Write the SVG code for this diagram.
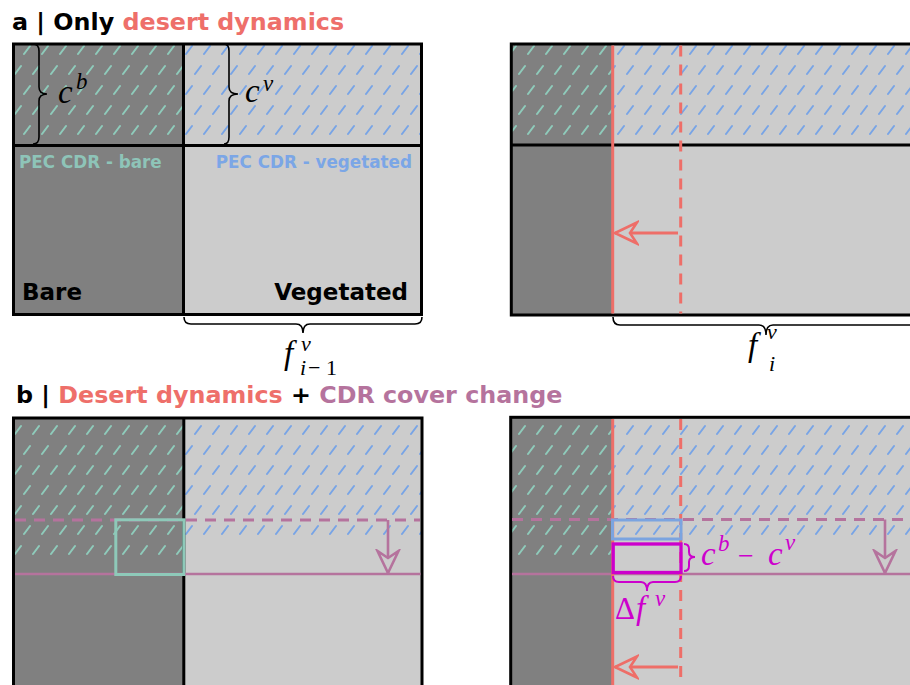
<svg xmlns="http://www.w3.org/2000/svg" width="910" height="685" viewBox="0 0 910 685">
<style>
.bg{fill:#ffffff}
.bare{fill:#808080}
.veg{fill:#cccccc}
.ht{fill:url(#hatchTeal)}
.hb{fill:url(#hatchBlue)}
.border{fill:none;stroke:#000;stroke-width:3}
.div{stroke:#000;stroke-width:3}
.red{stroke:#ee6e68;stroke-width:3;fill:none}
.reddash{stroke:#ee6e68;stroke-width:3;stroke-dasharray:11 8;fill:none}
.pur{stroke:#b5739d;stroke-width:2.6;fill:none}
.purdash{stroke:#b5739d;stroke-width:3;stroke-dasharray:11 8;fill:none}
.brace{fill:none;stroke:#000;stroke-width:1.6}
.mbrace{fill:none;stroke:#cc00cc;stroke-width:2}
.title{font-family:"DejaVu Sans",Verdana,sans-serif;font-weight:bold;font-size:23.8px}
.lbl{font-family:"DejaVu Sans",Verdana,sans-serif;font-weight:bold;font-size:23px;fill:#000}
.pec{font-family:"DejaVu Sans",Verdana,sans-serif;font-weight:bold;font-size:16.8px}
.math{font-family:"Liberation Serif","Times New Roman",serif;font-style:italic}
.up{font-family:"Liberation Serif","Times New Roman",serif;font-style:normal}
</style>
<defs>
<pattern id="hatchTeal" patternUnits="userSpaceOnUse" x="4" y="0" width="18" height="40">
<path d="M2,14 L8,6 M11,34 L17,26" stroke="#8ecbbb" stroke-width="2" stroke-linecap="round"/>
</pattern>
<pattern id="hatchBlue" patternUnits="userSpaceOnUse" x="4" y="0" width="18" height="40">
<path d="M2,14 L8,6 M11,34 L17,26" stroke="#78a4e6" stroke-width="2" stroke-linecap="round"/>
</pattern>
<marker id="arrRed" viewBox="0 0 26 26" refX="24" refY="13" markerWidth="26" markerHeight="26" orient="auto" markerUnits="userSpaceOnUse">
<path d="M24,13 L2,2.5 L9,13 L2,23.5 Z" fill="#cccccc" stroke="#ee6e68" stroke-width="2.6" stroke-linejoin="miter"/>
</marker>
<marker id="arrPur" viewBox="0 0 26 26" refX="24" refY="13" markerWidth="26" markerHeight="26" orient="auto" markerUnits="userSpaceOnUse">
<path d="M24,13 L2,2.5 L9,13 L2,23.5 Z" fill="#cccccc" stroke="#b5739d" stroke-width="2.6" stroke-linejoin="miter"/>
</marker>
</defs>
<rect class="bg" x="0" y="0" width="910" height="685"/>

<g id="title-a">
<text class="title" x="12" y="30"><tspan fill="#000">a | Only </tspan><tspan fill="#ee6f6a">desert dynamics</tspan></text>
</g>
<g id="title-b">
<text class="title" x="16" y="403"><tspan fill="#000">b | </tspan><tspan fill="#ee6f6a">Desert dynamics</tspan><tspan fill="#000"> + </tspan><tspan fill="#b5739d">CDR cover change</tspan></text>
</g>

<!-- Panel a left -->
<g id="panel-a-left">
<rect class="bare" x="13.5" y="44" width="170" height="270.5"/>
<rect class="veg" x="183.5" y="44" width="238" height="270.5"/>
<rect class="ht" x="13.5" y="44" width="170" height="101.5"/>
<rect class="hb" x="183.5" y="44" width="238" height="101.5"/>
<line class="div" x1="13.5" y1="145.5" x2="421.5" y2="145.5"/>
<line class="div" x1="183.5" y1="44" x2="183.5" y2="314.5"/>
<rect class="border" x="13.5" y="44" width="408" height="270.5"/>
<text class="pec" x="19" y="168" fill="#8ec4b8">PEC CDR - bare</text>
<text class="pec" x="412" y="168" text-anchor="end" fill="#7ba6e6">PEC CDR - vegetated</text>
<text class="lbl" x="22" y="300">Bare</text>
<text class="lbl" x="408" y="300" text-anchor="end">Vegetated</text>
<text class="math" x="58" y="103" font-size="33">c</text>
<text class="math" x="76" y="89" font-size="23">b</text>
<text class="math" x="245" y="102" font-size="33">c</text>
<text class="math" x="263" y="91" font-size="23">v</text>
<text class="math" x="284" y="364" font-size="33">f</text>
<text class="math" x="301" y="351" font-size="22">v</text>
<text class="math" x="300" y="375" font-size="22">i</text>
<text class="up" x="308" y="375" font-size="22">−</text>
<text class="up" x="326" y="375" font-size="22">1</text>
</g>

<!-- Panel a right -->
<g id="panel-a-right">
<rect class="bare" x="511.3" y="44" width="101.4" height="271"/>
<rect class="veg" x="612.7" y="44" width="310" height="271"/>
<rect class="ht" x="511.3" y="44" width="101.4" height="101"/>
<rect class="hb" x="612.7" y="44" width="310" height="101"/>
<line class="div" x1="511.3" y1="145" x2="925" y2="145"/>
<rect class="border" x="511.3" y="44" width="420" height="271"/>
<text class="math" x="748" y="356" font-size="33">f</text>
<text class="math" x="767" y="339" font-size="22">v</text>
<text class="math" x="769" y="371" font-size="22">i</text>
</g>

<!-- Panel b left -->
<g id="panel-b-left">
<rect class="bare" x="13.5" y="418" width="170.3" height="290"/>
<rect class="veg" x="183.8" y="418" width="238.2" height="290"/>
<rect class="ht" x="13.5" y="418" width="170.3" height="145"/>
<rect class="hb" x="183.8" y="418" width="238.2" height="124"/>
<line class="div" x1="183.8" y1="418" x2="183.8" y2="700"/>
<rect class="border" x="13.5" y="418" width="408.5" height="290"/>
</g>

<!-- Panel b right -->
<g id="panel-b-right">
<rect class="bare" x="510.7" y="417.3" width="102" height="290"/>
<rect class="veg" x="612.7" y="417.3" width="310" height="290"/>
<rect class="ht" x="510.7" y="417.3" width="102" height="145.7"/>
<rect class="hb" x="612.7" y="417.3" width="310" height="124.7"/>
<rect class="border" x="510.7" y="417.3" width="420" height="290"/>
</g>

<!-- Boundary lines and connectors -->
<g id="connectors">
<line class="red" x1="612.7" y1="45.5" x2="612.7" y2="313.5"/>
<line class="reddash" x1="680.7" y1="45.5" x2="680.7" y2="313.5"/>
<line class="red" x1="678" y1="233" x2="615" y2="233" marker-end="url(#arrRed)"/>
<path class="brace" d="M33,44 Q39,44 39,51 L39,87 Q39,94 47,94 Q39,94 39,101 L39,137 Q39,144 33,144"/>
<path class="brace" d="M224,44 Q229,44 229,51 L229,87 Q229,94 238,94 Q229,94 229,101 L229,137 Q229,144 224,144"/>
<path class="brace" d="M184,317 Q184,324 191,324 L296,324 Q303,324 303,333 Q303,324 310,324 L415,324 Q422,324 422,317"/>
<path class="brace" d="M613,317 Q613,325 620,325 L759,325 Q766,325 766,335 Q766,325 773,325 L912,325 Q919,325 919,317"/>

<line class="purdash" x1="15" y1="520" x2="420" y2="520"/>
<line class="pur" x1="15" y1="574" x2="420.5" y2="574"/>
<rect x="115.8" y="519.8" width="68" height="54.7" fill="none" stroke="#8ec9b9" stroke-width="3"/>
<line class="pur" x1="388" y1="520" x2="388" y2="573" marker-end="url(#arrPur)"/>

<line class="purdash" x1="512" y1="519.5" x2="912" y2="519.5"/>
<line class="pur" x1="512" y1="574" x2="912" y2="574"/>
<line class="red" x1="612.7" y1="419" x2="612.7" y2="690"/>
<line class="reddash" x1="680.7" y1="419" x2="680.7" y2="690"/>
<rect x="612.5" y="520" width="68.5" height="19" fill="none" stroke="#7ba4e0" stroke-width="3"/>
<rect x="613.2" y="544" width="67.8" height="28.5" fill="none" stroke="#cc00cc" stroke-width="3.3"/>
<path class="mbrace" d="M684,544 Q689,544 689,549 L689,552 Q689,557 695,557 Q689,557 689,562 L689,566 Q689,571 684,571"/>
<path class="mbrace" d="M613,576 Q613,582 619,582 L641,582 Q647,582 647,591 Q647,582 653,582 L675,582 Q681,582 681,576"/>
<line class="pur" x1="885" y1="519.5" x2="885" y2="573" marker-end="url(#arrPur)"/>
<line class="red" x1="678" y1="667" x2="615" y2="667" marker-end="url(#arrRed)"/>
</g>

<g id="labels-b">
<text class="math" x="701" y="565" font-size="33" fill="#cc00cc">c</text>
<text class="math" x="718" y="551" font-size="23" fill="#cc00cc">b</text>
<text class="up" x="738" y="565" font-size="28" fill="#cc00cc">−</text>
<text class="math" x="768" y="565" font-size="33" fill="#cc00cc">c</text>
<text class="math" x="785" y="550" font-size="23" fill="#cc00cc">v</text>
<text class="up" x="615" y="619" font-size="31" fill="#cc00cc">Δ</text>
<text class="math" x="636" y="619" font-size="33" fill="#cc00cc">f</text>
<text class="math" x="655" y="606" font-size="23" fill="#cc00cc">v</text>
</g>
</svg>
